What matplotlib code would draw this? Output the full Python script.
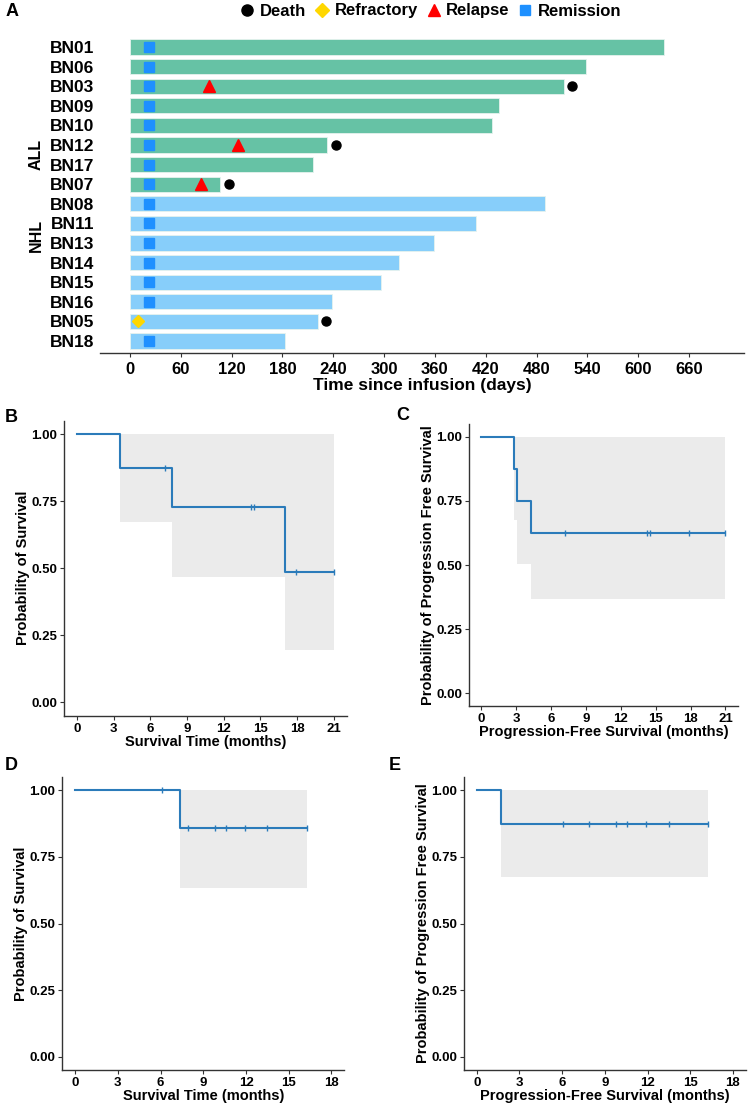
import numpy as np
import matplotlib
matplotlib.use("Agg")
import matplotlib.pyplot as plt
from matplotlib.lines import Line2D
from matplotlib.transforms import blended_transform_factory

plt.rcParams['font.family'] = ['Liberation Sans', 'DejaVu Sans']
plt.rcParams['font.weight'] = 'bold'

# --- swimmer plot data (days) ---
patients = ['BN01', 'BN06', 'BN03', 'BN09', 'BN10', 'BN12', 'BN17', 'BN07',
            'BN08', 'BN11', 'BN13', 'BN14', 'BN15', 'BN16', 'BN05', 'BN18']
groups = ['ALL'] * 8 + ['NHL'] * 8
duration = [630, 538, 512, 436, 427, 233, 216, 106,
            490, 408, 359, 318, 296, 239, 222, 183]
remission_pat = ['BN01', 'BN06', 'BN03', 'BN09', 'BN10', 'BN12', 'BN17', 'BN07',
                 'BN08', 'BN11', 'BN13', 'BN14', 'BN15', 'BN16', 'BN18']
remission_day = [22] * 15
refractory_pat = ['BN05']
refractory_day = [10]
relapse_pat = ['BN03', 'BN12', 'BN07']
relapse_day = [93, 128, 84]
death_pat = ['BN03', 'BN12', 'BN07', 'BN05']
death_day = [522, 243, 117, 232]
day_ticks = [0, 60, 120, 180, 240, 300, 360, 420, 480, 540, 600, 660]

# --- Kaplan-Meier data (months) ---
# B: overall survival, ALL
b_time = [0, 3.56, 7.77, 17.04, 21.0]
b_surv = [1.0, 0.875, 0.729, 0.486, 0.486]
b_low = [1.0, 0.673, 0.469, 0.196, 0.196]
b_cens = [7.19, 14.22, 14.5, 17.9, 21.0]
b_cens_s = [0.875, 0.729, 0.729, 0.486, 0.486]
# C: progression-free survival, ALL
c_time = [0, 2.78, 3.07, 4.24, 21.0]
c_surv = [1.0, 0.875, 0.75, 0.625, 0.625]
c_low = [1.0, 0.674, 0.505, 0.366, 0.366]
c_cens = [7.2, 14.25, 14.47, 17.9, 21.0]
c_cens_s = [0.625, 0.625, 0.625, 0.625, 0.625]
# D: overall survival, NHL
d_time = [0, 7.33, 16.27]
d_surv = [1.0, 0.857, 0.857]
d_low = [1.0, 0.635, 0.635]
d_cens = [6.07, 7.94, 9.8, 10.57, 11.9, 13.5, 16.3]
d_cens_s = [1.0, 0.857, 0.857, 0.857, 0.857, 0.857, 0.857]
# E: progression-free survival, NHL
e_time = [0, 1.73, 16.27]
e_surv = [1.0, 0.875, 0.875]
e_low = [1.0, 0.674, 0.674]
e_cens = [6.03, 7.92, 9.79, 10.54, 11.87, 13.53, 16.27]
e_cens_s = [0.875] * 7

W, H = 748, 1106
fig = plt.figure(figsize=(W / 100, H / 100), dpi=100)

bar_colors = {'ALL': '#66C2A5', 'NHL': '#87CEFA'}
axis_col = '#333333'

# ---------------- Panel A ----------------
axA = fig.add_axes([100 / W, 1 - 353 / H, 644 / W, 318 / H])
rows = {p: i for i, p in enumerate(patients)}
axA.barh(range(len(patients)), duration, height=0.78,
         color=[bar_colors[g] for g in groups], edgecolor='#e6f2ee', linewidth=0.6)
axA.plot(remission_day, [rows[p] for p in remission_pat], 's', color='#1E90FF',
         markersize=6.5, linestyle='none')
axA.plot(refractory_day, [rows[p] for p in refractory_pat], 'D', color='#FFD700',
         markersize=6.5, linestyle='none')
axA.plot(relapse_day, [rows[p] for p in relapse_pat], '^', color='#FF0000',
         markersize=8, linestyle='none')
axA.plot(death_day, [rows[p] for p in death_pat], 'o', color='black',
         markersize=6.5, linestyle='none')
axA.set_ylim(15.61, -0.61)
axA.set_xlim(-35.4, 725)
axA.set_yticks(range(len(patients)))
axA.set_yticklabels(patients, fontsize=12.5, fontweight='bold')
axA.set_xticks(day_ticks)
axA.set_xticklabels([str(t) for t in day_ticks], fontsize=12, fontweight='bold')
axA.tick_params(axis='y', length=0, pad=4)
axA.tick_params(axis='x', length=3, color=axis_col, width=0.8)
for s in ['top', 'right', 'left']:
    axA.spines[s].set_visible(False)
axA.spines['bottom'].set_color(axis_col)
axA.spines['bottom'].set_linewidth(1.0)
axA.set_xlabel('Time since infusion (days)', fontsize=12.5, fontweight='bold', labelpad=1)
tr = blended_transform_factory(axA.transAxes, axA.transData)
axA.text(-0.0994, 5.5, 'ALL', rotation=90, transform=tr, ha='center', va='center',
         fontsize=11.5, fontweight='bold')
axA.text(-0.0994, 9.6, 'NHL', rotation=90, transform=tr, ha='center', va='center',
         fontsize=11.5, fontweight='bold')

handles = [
    Line2D([], [], marker='o', color='black', linestyle='none', markersize=8, label='Death'),
    Line2D([], [], marker='D', color='#FFD700', linestyle='none', markersize=7, label='Refractory'),
    Line2D([], [], marker='^', color='#FF0000', linestyle='none', markersize=8, label='Relapse'),
    Line2D([], [], marker='s', color='#1E90FF', linestyle='none', markersize=7, label='Remission'),
]
fig.legend(handles=handles, loc='center', bbox_to_anchor=(0.574, 1 - 11 / H), ncol=4,
           frameon=False, prop={'size': 12, 'weight': 'bold'}, handletextpad=0.15,
           columnspacing=0.35, handlelength=1.2)
fig.text(12 / W, 1 - 11 / H, 'A', fontsize=13, fontweight='bold', ha='center', va='center')


# ---------------- KM panels ----------------
def km_panel(rect, t, s, low, cens, cens_s, xmax, ylabel, xlabel, letter, letter_xy):
    ax = fig.add_axes([rect[0] / W, 1 - rect[3] / H, (rect[2] - rect[0]) / W,
                       (rect[3] - rect[1]) / H])
    ax.fill_between(t, low, [1.0] * len(t), step='post', color='#EBEBEB', linewidth=0)
    ax.step(t, s, where='post', color='#2B7BBA', linewidth=1.5)
    ax.plot(cens, cens_s, '|', color='#2B7BBA', markersize=5, markeredgewidth=1.0)
    ax.set_xlim(-0.05 * xmax, 1.05 * xmax)
    ax.set_ylim(-0.05, 1.05)
    ax.set_xticks(np.arange(0, xmax + 1, 3))
    ax.set_xticklabels([str(int(v)) for v in np.arange(0, xmax + 1, 3)],
                       fontsize=9.5, fontweight='bold')
    ax.set_yticks([0, 0.25, 0.5, 0.75, 1.0])
    ax.set_yticklabels(['0.00', '0.25', '0.50', '0.75', '1.00'], fontsize=9.5,
                       fontweight='bold')
    ax.tick_params(length=3, color=axis_col, width=0.8, pad=2)
    for sp in ['top', 'right']:
        ax.spines[sp].set_visible(False)
    for sp in ['left', 'bottom']:
        ax.spines[sp].set_color(axis_col)
        ax.spines[sp].set_linewidth(1.0)
    ax.set_ylabel(ylabel, fontsize=10.5, fontweight='bold', labelpad=1)
    ax.set_xlabel(xlabel, fontsize=10.5, fontweight='bold', labelpad=0)
    fig.text(letter_xy[0] / W, 1 - letter_xy[1] / H, letter, fontsize=13,
             fontweight='bold', ha='center', va='center')
    return ax


km_panel((64, 420.7, 346.7, 715.7), b_time, b_surv, b_low, b_cens, b_cens_s, 21,
         'Probability of Survival', 'Survival Time (months)', 'B', (11, 417))
km_panel((469, 424, 737.7, 706), c_time, c_surv, c_low, c_cens, c_cens_s, 21,
         'Probability of Progression Free Survival', 'Progression-Free Survival (months)',
         'C', (403, 416))
km_panel((62.3, 777, 344.3, 1070), d_time, d_surv, d_low, d_cens, d_cens_s, 18,
         'Probability of Survival', 'Survival Time (months)', 'D', (11, 765))
km_panel((464, 777, 745.7, 1070), e_time, e_surv, e_low, e_cens, e_cens_s, 18,
         'Probability of Progression Free Survival', 'Progression-Free Survival (months)',
         'E', (395, 765))

fig.savefig('out.png', dpi=100)
